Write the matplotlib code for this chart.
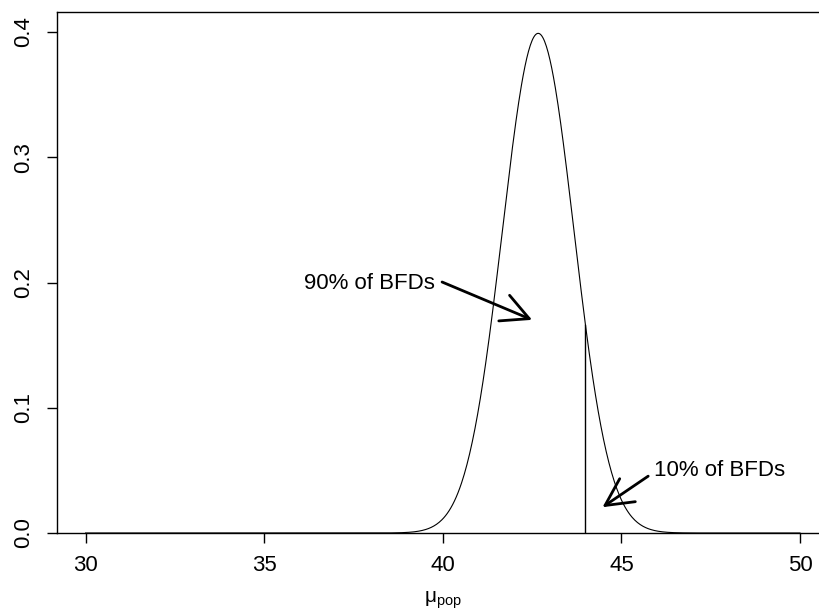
import numpy as np
import matplotlib
matplotlib.use('Agg')
import matplotlib.pyplot as plt

plt.rcParams['font.family'] = ['Liberation Sans', 'DejaVu Sans']
plt.rcParams['mathtext.fontset'] = 'custom'
plt.rcParams['mathtext.rm'] = 'Liberation Sans'

# posterior of mu_pop (normal)
mu_pop = 42.67
sd_pop = 1.0
x_from, x_to = 30, 50
q90 = 43.98          # cut at the 90% point
q90_height = 0.166

x_ticks = [30, 35, 40, 45, 50]
y_ticks = [0.0, 0.1, 0.2, 0.3, 0.4]

# annotations: text, text position, arrow start, arrow tip
notes = [
    ('90% of BFDs', (37.94, 0.199), (39.98, 0.2004), (42.50, 0.1702)),
    ('10% of BFDs', (47.74, 0.0502), (45.75, 0.0454), (44.47, 0.0206)),
]

xs = np.linspace(x_from, x_to, 801)
dens = np.exp(-0.5 * ((xs - mu_pop) / sd_pop) ** 2) / (sd_pop * np.sqrt(2 * np.pi))

fig = plt.figure(figsize=(8.19, 6.14), dpi=100)
ax = fig.add_axes([0.0696, 0.1319, 0.9421, 0.8486])

ax.plot(xs, dens, color='black', lw=0.8, clip_on=False)
ax.plot([q90, q90], [0, q90_height], color='black', lw=1.0)

for txt, tpos, start, tip in notes:
    ax.text(tpos[0], tpos[1], txt, fontsize=16, ha='center', va='center')
    ax.annotate('', xy=tip, xytext=start,
                arrowprops=dict(arrowstyle='->,head_length=1.96,head_width=1.0',
                                lw=2, color='black', shrinkA=0, shrinkB=0,
                                mutation_scale=10))

ax.set_xlim(29.2, 50.8)
ax.set_ylim(0, 0.416)
ax.set_xticks(x_ticks)
ax.set_xticklabels([str(v) for v in x_ticks])
ax.set_yticks(y_ticks)
ax.set_yticklabels(['%.1f' % v for v in y_ticks], rotation=90, va='center')
ax.tick_params(axis='both', length=7.5, width=1.0, labelsize=16, colors='black')
ax.tick_params(axis='x', pad=8)
ax.tick_params(axis='y', pad=9)
for s in ax.spines.values():
    s.set_linewidth(1.0)

ax.set_xlabel('μ$_{\\mathrm{pop}}$', fontsize=15, labelpad=10)

fig.savefig('out.png', dpi=100)
